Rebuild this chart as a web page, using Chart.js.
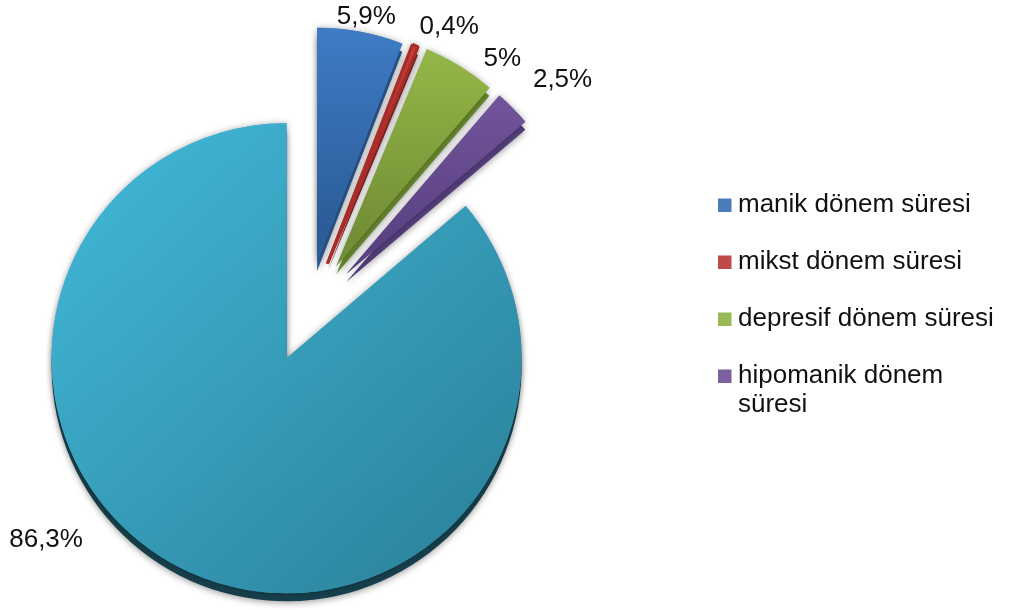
<!DOCTYPE html>
<html lang="tr">
<head>
<meta charset="utf-8">
<title>Dönem süreleri</title>
<script src="https://cdn.jsdelivr.net/npm/chart.js@4.4.0/dist/chart.umd.min.js"></script>
<style>
  html, body { margin: 0; padding: 0; background: #fff; }
  #wrap { position: relative; width: 1018px; height: 610px; }
</style>
</head>
<body>
<div id="wrap"><canvas id="donemChart"></canvas></div>
<script>
const categories = ['manik dönem süresi', 'mikst dönem süresi', 'depresif dönem süresi', 'hipomanik dönem süresi', ''];
const shares = [5.9, 0.4, 5, 2.5, 86.3];
const valueLabels = shares.map(v => String(v).replace('.', ',') + '%');

// slice faces go light -> dark top to bottom, plus a darker wall underneath
const faceTop = ['#4384d0', '#d0433e', '#a1c64f', '#8361ac', '#41b8d8'];
const faceBottom = ['#2c5c98', '#a82d29', '#728f35', '#5a4282', '#2a7d95'];
const sideColors = ['#2b5790', '#8a2522', '#66852c', '#533d7a', '#163f4c'];
const keyColors = ['#4a7ebb', '#be4b48', '#98b954', '#7d60a0'];

const explodeBy = [50, 52, 54, 54, 51];
const depth = 8;
const labelTurn = [1, 6, 8, 4, 27];   // degrees past the slice middle
const labelGap = [9, 25, 25, 51, 71]; // px beyond the rim
const FONT = '26px "Liberation Sans", Arial, sans-serif';

function faceGradient(c) {
  const ctx = c.chart.ctx;
  const i = c.dataIndex;
  const g = i === 4
    ? ctx.createLinearGradient(60, 130, 500, 600)
    : ctx.createLinearGradient(0, 25, 0, 280);
  g.addColorStop(0, faceTop[i]);
  g.addColorStop(1, faceBottom[i]);
  return g;
}

function wrapText(ctx, text, maxWidth) {
  const words = text.split(' ');
  const lines = [];
  let line = '';
  words.forEach(w => {
    const test = line ? line + ' ' + w : w;
    if (line && ctx.measureText(test).width > maxWidth) {
      lines.push(line);
      line = w;
    } else {
      line = test;
    }
  });
  lines.push(line);
  return lines;
}

function sliceShift(arc, i) {
  const mid = (arc.startAngle + arc.endAngle) / 2;
  return [Math.cos(mid) * explodeBy[i], Math.sin(mid) * explodeBy[i]];
}

const explodedPie = {
  id: 'explodedPie',
  beforeDatasetDraw(chart, args) {
    const ctx = chart.ctx;
    const arcs = args.meta.data;

    // side walls first
    arcs.forEach((arc, i) => {
      const [dx, dy] = sliceShift(arc, i);
      ctx.save();
      ctx.translate(dx, dy + depth);
      ctx.beginPath();
      ctx.moveTo(arc.x, arc.y);
      ctx.arc(arc.x, arc.y, arc.outerRadius, arc.startAngle, arc.endAngle);
      ctx.closePath();
      ctx.fillStyle = sideColors[i];
      ctx.shadowColor = 'rgba(0,0,0,0.35)';
      ctx.shadowBlur = 6;
      ctx.shadowOffsetY = 2;
      ctx.fill();
      ctx.restore();
    });

    // soft halo under every face, then the faces on top
    [true, false].forEach(withShadow => {
      arcs.forEach((arc, i) => {
        const [dx, dy] = sliceShift(arc, i);
        ctx.save();
        ctx.translate(dx, dy);
        if (withShadow) {
          ctx.shadowColor = 'rgba(0,0,0,0.32)';
          ctx.shadowBlur = 6;
        }
        arc.draw(ctx);
        ctx.restore();
      });
    });
    return false;
  },
  afterDatasetsDraw(chart) {
    const ctx = chart.ctx;
    const arcs = chart.getDatasetMeta(0).data;
    ctx.save();
    ctx.font = FONT;
    ctx.fillStyle = '#111';
    ctx.textAlign = 'center';
    ctx.textBaseline = 'alphabetic';
    arcs.forEach((arc, i) => {
      const [dx, dy] = sliceShift(arc, i);
      const a = (arc.startAngle + arc.endAngle) / 2 + labelTurn[i] * Math.PI / 180;
      const r = arc.outerRadius + labelGap[i];
      ctx.fillText(valueLabels[i], arc.x + dx + Math.cos(a) * r, arc.y + dy + Math.sin(a) * r);
    });
    ctx.restore();
  },
  afterDraw(chart) {
    const ctx = chart.ctx;
    ctx.save();
    ctx.font = FONT;
    ctx.textAlign = 'left';
    ctx.textBaseline = 'alphabetic';
    let y = 212;
    categories.forEach((name, i) => {
      if (!name) return;
      const lines = wrapText(ctx, name, 268);
      ctx.fillStyle = keyColors[i];
      ctx.fillRect(718, y - 13.5, 13.5, 13.5);
      ctx.fillStyle = '#111';
      lines.forEach((ln, k) => ctx.fillText(ln, 738, y + k * 29));
      y += 57 + (lines.length - 1) * 29;
    });
    ctx.restore();
  }
};

new Chart(document.getElementById('donemChart'), {
  type: 'pie',
  data: {
    labels: categories,
    datasets: [{
      data: shares,
      backgroundColor: faceGradient,
      borderColor: faceBottom,
      borderWidth: [0, 3, 0, 0, 0]
    }]
  },
  options: {
    responsive: true,
    maintainAspectRatio: false,
    animation: false,
    radius: 235,
    layout: { padding: { top: 14, right: 402, left: 0, bottom: 0 } },
    plugins: {
      legend: { display: false },
      tooltip: { enabled: false }
    },
    events: []
  },
  plugins: [explodedPie]
});
</script>
</body>
</html>
